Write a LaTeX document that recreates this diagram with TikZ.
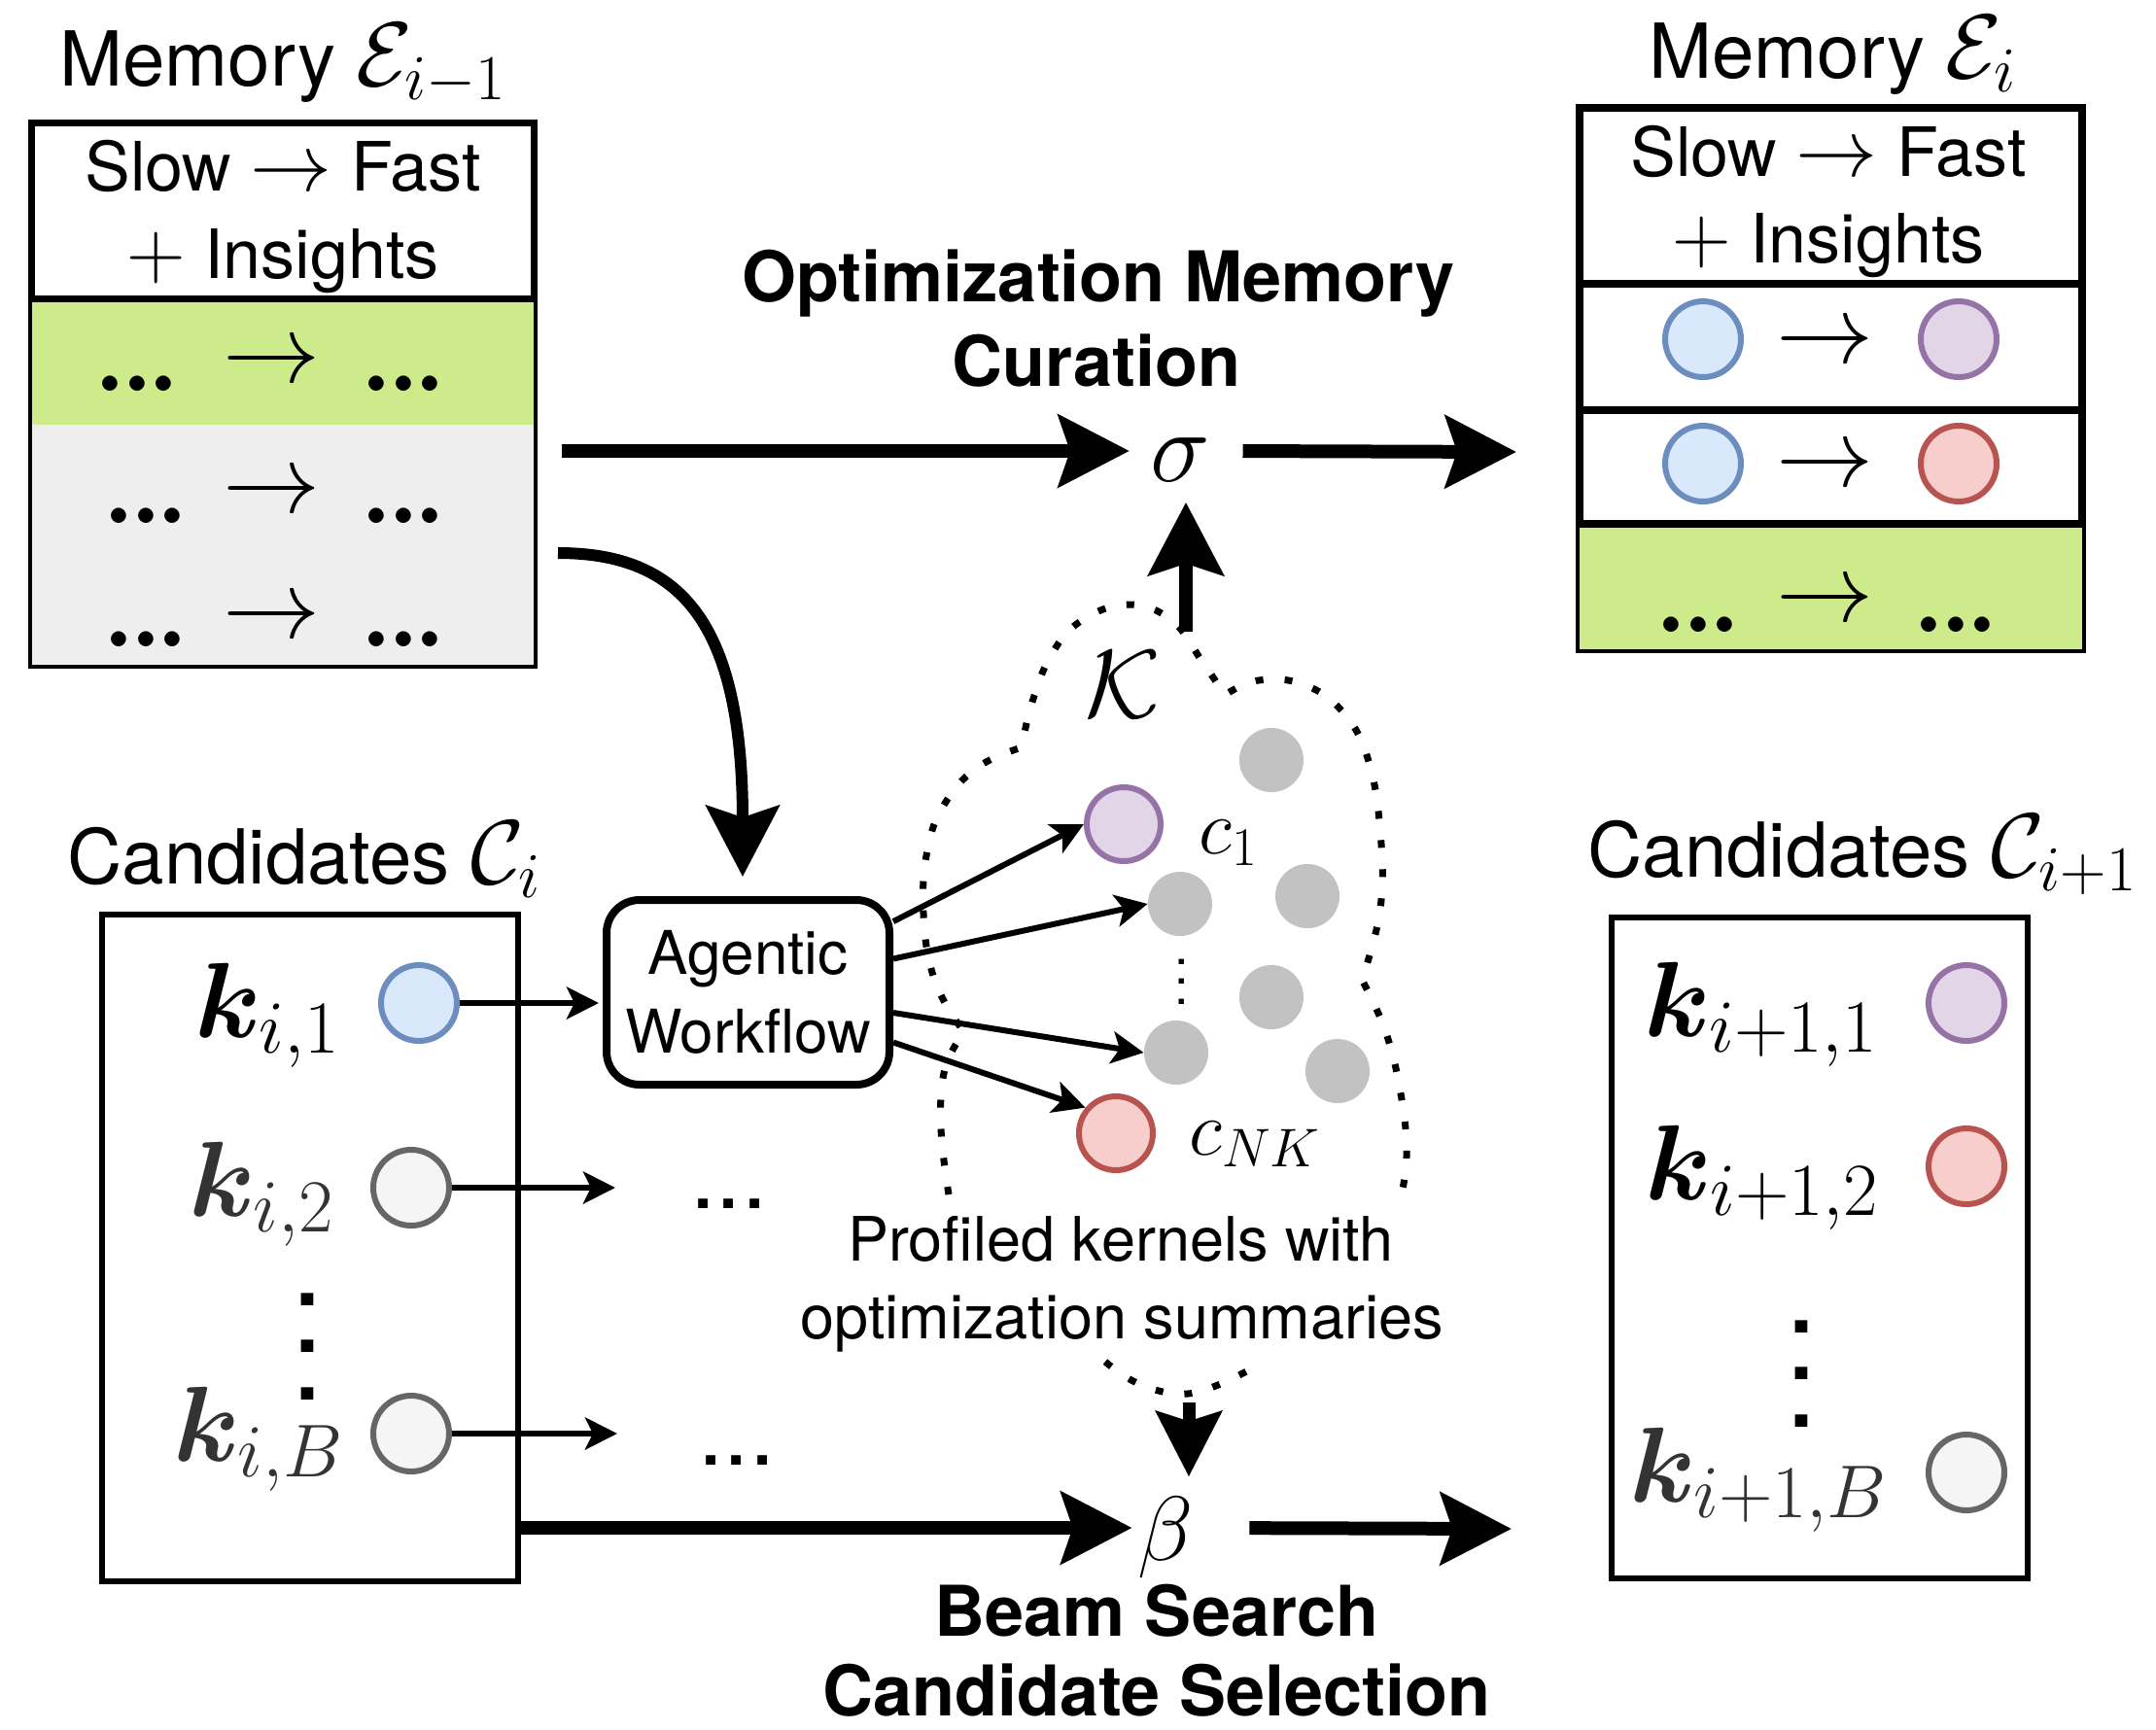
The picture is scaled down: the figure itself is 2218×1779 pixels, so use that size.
\RequirePackage{fix-cm}
\documentclass[tikz,border=0pt]{standalone}
\usepackage[no-math]{fontspec}
\setmainfont{TeX Gyre Heros}
\usepackage{amsmath}
\usepackage{bm}
\usepackage{graphicx}
\usetikzlibrary{arrows.meta}
\definecolor{cblueF}{HTML}{DAE8FC}\definecolor{cblueD}{HTML}{6C8EBF}
\definecolor{cpurF}{HTML}{E1D5E7}\definecolor{cpurD}{HTML}{9673A6}
\definecolor{credF}{HTML}{F8CECC}\definecolor{credD}{HTML}{B85450}
\definecolor{cgrayF}{HTML}{F5F5F5}\definecolor{cgrayD}{HTML}{666666}
\definecolor{dotgray}{HTML}{C2C2C2}
\definecolor{rowgreen}{HTML}{CDEB8B}
\definecolor{rowgray}{HTML}{EEEEEE}
\definecolor{kgray}{HTML}{333333}
\newcommand\fsz[1]{\fontsize{#1pt}{#1pt}\selectfont}
\newcommand\lblmath[1]{{\fsz{47}$#1$}}
\newcommand\hdrmath[1]{{\fsz{42}$#1$}}
\begin{document}
\begin{tikzpicture}[x=0.5pt,y=-0.5pt,
  txt/.style={inner sep=0pt, anchor=base},
  txtw/.style={inner sep=0pt, anchor=base west},
  bigarrow/.style={line width=7pt, -{Stealth[length=36.5pt,width=37pt,inset=6pt]}},
  thinarrow/.style={line width=3pt, -{Stealth[length=16.5pt,width=16.5pt,inset=4pt]}},
  kcirc/.style={circle, line width=3pt, minimum size=39pt, inner sep=0pt},
  bluec/.style={kcirc, fill=cblueF, draw=cblueD},
  purc/.style={kcirc, fill=cpurF, draw=cpurD},
  redc/.style={kcirc, fill=credF, draw=credD},
  grayc/.style={kcirc, fill=cgrayF, draw=cgrayD},
  gdot/.style={circle, fill=dotgray, minimum size=33pt, inner sep=0pt},
  cloudline/.style={line width=3.5pt, dash pattern=on 4pt off 11pt},
  rowdots/.style={inner sep=0pt, anchor=base, font=\fontfamily{lmr}\bfseries\fsz{50}},
  rowarr/.style={inner sep=0pt, font=\fsz{50}},
  hdr/.style={txt, font=\fsz{35}},
  lbl/.style={txtw, font=\fsz{39}},
  boldlbl/.style={txt, font=\bfseries\fsz{36}},
  klbl/.style={txt, font=\fsz{55}},
  vd/.style={inner sep=0pt, anchor=south},
  hdots/.style={txt, font=\fsz{47}}
]
\useasboundingbox (0,0) rectangle (2218,1779);

% ---------- left memory ----------
\fill[rowgray] (31,437) rectangle (551,686);
\fill[rowgreen] (31,307) rectangle (551,437);
\draw[line width=2pt] (31,307) rectangle (551,686);
\draw[line width=3.5pt] (32.5,126.5) rectangle (549.5,307);
\node[lbl] (memL) at (61,88) {Memory \lblmath{\mathcal{E}_{i-1}}};
\node[hdr] (memLh1) at (291,196) {Slow \hdrmath{\rightarrow} Fast};
\node[hdr] (memLh2) at (291,286) {\hdrmath{+} Insights};
\node[rowdots] (l1a) at (141,402) {...};
\node[rowarr]  (l1b) at (279,375) {$\rightarrow$};
\node[rowdots] (l1c) at (415,402) {...};
\node[rowdots] (l2a) at (150,538) {...};
\node[rowarr]  (l2b) at (279,509) {$\rightarrow$};
\node[rowdots] (l2c) at (415,538) {...};
\node[rowdots] (l3a) at (150,665) {...};
\node[rowarr]  (l3b) at (279,638) {$\rightarrow$};
\node[rowdots] (l3c) at (415,665) {...};

% ---------- right memory ----------
\fill[rowgreen] (1623,539) rectangle (2144,670);
\draw[line width=2pt] (1623,539) rectangle (2144,670);
\draw[line width=4pt] (1625,111) rectangle (2142,539);
\draw[line width=4pt] (1625,292) -- (2142,292);
\draw[line width=4pt] (1625,422) -- (2142,422);
\node[lbl] (memR) at (1696,80) {Memory \lblmath{\mathcal{E}_{i}}};
\node[hdr] (memRh1) at (1881,181) {Slow \hdrmath{\rightarrow} Fast};
\node[hdr] (memRh2) at (1881,270) {\hdrmath{+} Insights};
\node[bluec] (r1a) at (1752,349) {};
\node[rowarr] (r1b) at (1877,355) {$\rightarrow$};
\node[purc] (r1c) at (2015,349) {};
\node[bluec] (r2a) at (1752,477) {};
\node[rowarr] (r2b) at (1877,482) {$\rightarrow$};
\node[redc] (r2c) at (2015,477) {};
\node[rowdots] (r3a) at (1747,650) {...};
\node[rowarr]  (r3b) at (1877,621) {$\rightarrow$};
\node[rowdots] (r3c) at (2012,650) {...};

% ---------- left candidates ----------
\draw[line width=3pt] (105,941) rectangle (533,1627);
\node[lbl] (candL) at (69,909) {Candidates \lblmath{\mathcal{C}_i}};
\node[klbl] (k1) at (275,1067) {$\bm{k}_{i,1}$};
\node[klbl, text=kgray] (k2) at (269,1251) {$\bm{k}_{i,2}$};
\node[klbl, text=kgray] (kB) at (266,1503) {$\bm{k}_{i,B}$};
\node[vd] (vdL) at (316,1441) {\scalebox{6.1}{$\vdots$}};
\node[bluec] (k1c) at (431,1032) {};
\node[grayc] (k2c) at (423,1222) {};
\node[grayc] (kBc) at (423,1475) {};

% ---------- right candidates ----------
\draw[line width=3pt] (1658,944) rectangle (2086,1624);
\node[lbl] (candR) at (1633,902) {Candidates \lblmath{\mathcal{C}_{i+1}}};
\node[klbl] (n1) at (1812,1066) {$\bm{k}_{i+1,1}$};
\node[klbl] (n2) at (1813,1234) {$\bm{k}_{i+1,2}$};
\node[klbl, text=kgray] (nB) at (1809,1545) {$\bm{k}_{i+1,B}$};
\node[vd] (vdR) at (1853,1469) {\scalebox{6.1}{$\vdots$}};
\node[purc] (n1c) at (2023,1032) {};
\node[redc] (n2c) at (2023,1200) {};
\node[grayc] (nBc) at (2023,1515) {};

% ---------- agentic workflow ----------
\node[draw, line width=4pt, rounded corners=17pt, minimum width=145.5pt, minimum height=95pt,
      inner sep=0pt, align=center, font={\fontsize{31pt}{40.5pt}\selectfont}] (ag) at (769.5,1021) {Agentic\\Workflow};

\coordinate (k2end) at (633,1222);
\coordinate (kBend) at (635,1475);
\node[hdots] (dots2) at (750,1243) {...};
\node[hdots] (dotsB) at (758,1507) {...};

% ---------- cloud ----------
\draw[cloudline] plot[smooth,tension=0.7] coordinates {(976,1229) (968,1160) (972,1100) (992,1062)}
 -- plot[smooth,tension=0.7] coordinates {(992,1062) (962,1010) (950,940) (955,870) (975,822) (1008,788) (1051,769)}
 -- plot[smooth,tension=0.7] coordinates {(1051,769) (1062,722) (1082,673) (1112,639) (1160,622) (1205,638) (1237,681) (1260,715)}
 -- plot[smooth,tension=0.7] coordinates {(1260,715) (1295,700) (1340,704) (1380,731) (1407,780) (1420,856) (1420,935) (1401,1008)}
 -- plot[smooth,tension=0.7] coordinates {(1401,1008) (1426,1063) (1442,1131) (1447,1190) (1441,1232)};
\draw[cloudline] plot[smooth,tension=0.7] coordinates {(1137,1401) (1162,1419) (1192,1431) (1222,1434) (1253,1425) (1290,1407)};

\node[txt, font=\fsz{50}] (kcal) at (1155,738) {$\mathcal{K}$};
\node[gdot] (g1) at (1308,782) {};
\node[gdot] (g2) at (1214,930) {};
\node[gdot] (g3) at (1345,922) {};
\node[gdot] (g4) at (1308,1026) {};
\node[gdot] (g5) at (1210,1083) {};
\node[gdot] (g6) at (1376,1102) {};
\node[purc, minimum size=38pt] (c1) at (1156,848) {};
\node[redc, minimum size=38pt] (cNK) at (1148,1166) {};
\node[txtw, font=\fsz{40}] (c1l) at (1233,878) {$c_1$};
\node[txtw, font=\fsz{40}] (cNKl) at (1223,1188) {$c_{NK}$};
\node[vd] (vdC) at (1216,1034) {\scalebox{2.6}{$\vdots$}};
\node[txt, font=\fsz{31.5}] (prof1) at (1153,1297) {Profiled kernels with};
\node[txt, font=\fsz{31.5}] (prof2) at (1154,1377) {optimization summaries};

% ---------- operators ----------
\node[txt, font=\fsz{52}, inner sep=10.7pt] (sig) at (1214.5,495) {$\sigma$};
\node[txt, font=\fsz{47}, inner xsep=2.7pt, inner ysep=10pt] (beta) at (1199,1605) {$\beta$};
\node[boldlbl] (opt1) at (1130,310) {Optimization Memory};
\node[boldlbl] (opt2) at (1128,397) {Curation};
\node[boldlbl] (bs1) at (1190,1683) {Beam Search};
\node[boldlbl] (bs2) at (1190,1765) {Candidate Selection};

% ---------- connectors ----------
\coordinate (tstart) at (578,464);
\coordinate (tend) at (1560,465);
\coordinate (bstart) at (536,1572);
\coordinate (bend) at (1555,1573);
\coordinate (cstart) at (574,569);
\coordinate (kup) at (1220,650);
\coordinate (kdown) at (1223,1443);

\draw[bigarrow] (tstart) -- (tstart -| sig.west);
\draw[bigarrow, shorten <=5.7pt] (tstart -| sig.east) -- (tend);
\draw[bigarrow] (bstart) -- (bstart -| beta.west);
\draw[bigarrow, shorten <=26pt] (bstart -| beta.east) -- (bend);
\draw[line width=7pt, -{Stealth[length=37.5pt,width=38.5pt,inset=6pt]}] (kup) -- (kup |- sig.south);
\draw[line width=6.5pt, -{Stealth[length=33.5pt,width=33.5pt,inset=5pt]}] (kdown) -- (kdown |- beta.north);
\draw[line width=6pt, -{Stealth[length=36.5pt,width=37.5pt,inset=6pt]}]
  (cstart) .. controls (700,569) and (764,640) .. ([xshift=-2.75pt,yshift=10pt]ag.north);

\draw[thinarrow, shorten >=2pt] (k1c.east) -- (k1c -| ag.west);
\draw[thinarrow] (k2c.east) -- (k2end);
\draw[thinarrow] (kBc.east) -- (kBend);

\draw[thinarrow] (ag.26) -- (c1.west);
\draw[thinarrow] (ag.13) -- (g2.west);
\draw[thinarrow] (ag.-8) -- (g5.west);
\draw[thinarrow] (ag.-19) -- (cNK.140);
\end{tikzpicture}
\end{document}
